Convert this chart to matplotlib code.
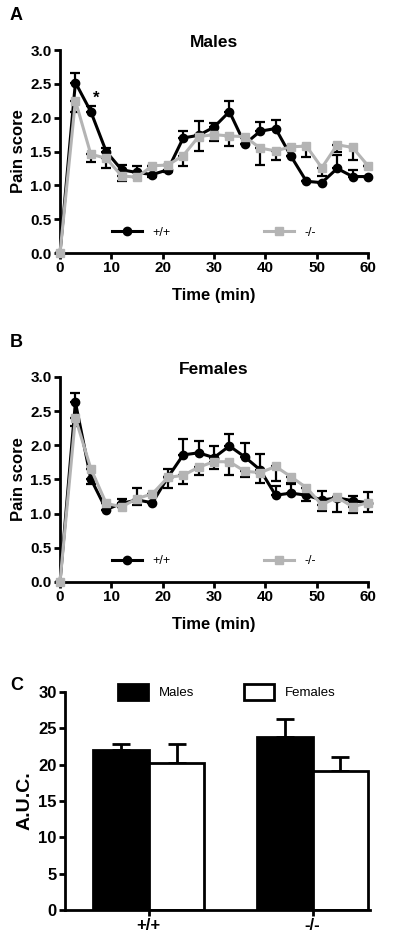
import matplotlib
matplotlib.use("Agg")
import matplotlib.pyplot as plt
from matplotlib.lines import Line2D
from matplotlib.patches import Patch
import numpy as np

plt.rcParams['font.family'] = ['Liberation Sans', 'DejaVu Sans']

# time points (min)
time = [0, 3, 6, 9, 12, 15, 18, 21, 24, 27, 30, 33, 36, 39, 42, 45, 48, 51, 54, 57, 60]

# Males, pain score
males_wt = [0, 2.52, 2.09, 1.50, 1.23, 1.19, 1.16, 1.23, 1.70, 1.74, 1.86, 2.09, 1.61, 1.80, 1.84, 1.43, 1.06, 1.04, 1.25, 1.13, 1.13]
males_wt_hi = [0, .14, .08, .05, .07, .10, 0, 0, .11, 0, .06, .16, 0, .13, .13, 0, 0, 0, .20, .10, 0]
males_wt_lo = [0, 0, 0, 0, 0, 0, .04, .03, 0, 0, 0, 0, 0, 0, 0, 0, 0, 0, 0, 0, 0]
males_ko = [0, 2.25, 1.46, 1.40, 1.14, 1.12, 1.29, 1.30, 1.44, 1.72, 1.75, 1.73, 1.72, 1.55, 1.51, 1.57, 1.58, 1.26, 1.60, 1.56, 1.29]
males_ko_lo = [0, .17, .11, .14, .08, 0, 0, 0, .15, .21, .10, .15, 0, .25, .14, 0, .16, .12, .10, .18, 0]
males_ko_hi = [0, 0, 0, 0, 0, 0, 0, 0, 0, .23, 0, 0, 0, 0, 0, 0, 0, 0, 0, 0, 0]

# Females, pain score
females_wt = [0, 2.63, 1.51, 1.06, 1.15, 1.20, 1.16, 1.53, 1.86, 1.89, 1.82, 1.99, 1.83, 1.64, 1.27, 1.30, 1.27, 1.20, 1.23, 1.19, 1.16]
females_wt_hi = [0, .13, 0, 0, .07, 0, 0, 0, .23, .18, .17, .18, .21, .23, .14, .15, 0, .13, 0, .07, .15]
females_wt_lo = [0, 0, .08, 0, 0, 0, 0, .16, 0, 0, 0, 0, 0, 0, 0, 0, 0, 0, .20, 0, 0]
females_ko = [0, 2.40, 1.66, 1.15, 1.10, 1.22, 1.29, 1.53, 1.56, 1.68, 1.76, 1.76, 1.62, 1.60, 1.69, 1.54, 1.38, 1.13, 1.24, 1.10, 1.16]
females_ko_lo = [0, .12, 0, 0, 0, .10, 0, 0, .13, .12, .11, .19, .08, .15, .21, .10, .20, .09, 0, .09, .13]
females_ko_hi = [0, 0, 0, 0, 0, .15, 0, .13, 0, 0, 0, 0, 0, 0, 0, 0, 0, 0, 0, 0, 0]

# AUC
genotypes = ['+/+', '-/-']
auc_males = [22.0, 23.8]
auc_males_err = [0.85, 2.5]
auc_females = [20.25, 19.1]
auc_females_err = [2.65, 1.9]

GRAY = '#b4b4b4'

fig = plt.figure(figsize=(4, 9.42), dpi=100)


def style_axes(ax, size=11):
    for s in ['top', 'right']:
        ax.spines[s].set_visible(False)
    for s in ['left', 'bottom']:
        ax.spines[s].set_linewidth(2)
    ax.tick_params(width=2, length=4, labelsize=size, pad=2)
    for lab in ax.get_xticklabels() + ax.get_yticklabels():
        lab.set_fontweight('bold')


def time_panel(rect, letter, title, wt, wt_lo, wt_hi, ko, ko_lo, ko_hi):
    ax = fig.add_axes(rect)
    ax.errorbar(time, wt, yerr=[wt_lo, wt_hi], fmt='none', ecolor='black',
                elinewidth=1.6, capsize=3.5, capthick=1.6, zorder=2, clip_on=False)
    ax.errorbar(time, ko, yerr=[ko_lo, ko_hi], fmt='none', ecolor='black',
                elinewidth=1.6, capsize=3.5, capthick=1.6, zorder=2, clip_on=False)
    ax.plot(time, wt, color='black', lw=2.2, marker='o', ms=6, zorder=3, clip_on=False)
    ax.plot(time, ko, color=GRAY, lw=2.2, marker='s', ms=6, zorder=4, clip_on=False)
    ax.set_xlim(0, 60)
    ax.set_ylim(0, 3.0)
    ax.set_xticks(range(0, 61, 10))
    ax.set_yticks(np.arange(0, 3.01, 0.5))
    ax.set_yticklabels(['%.1f' % v for v in np.arange(0, 3.01, 0.5)])
    style_axes(ax)
    ax.set_xlabel('Time (min)', fontsize=12, fontweight='bold', labelpad=9)
    ax.set_ylabel('Pain score', fontsize=12, fontweight='bold', labelpad=3)
    ax.set_title(title, fontsize=12.5, fontweight='bold', pad=1)
    handles = [Line2D([], [], color='black', lw=2.2, marker='o', ms=6),
               Line2D([], [], color=GRAY, lw=2.2, marker='s', ms=6)]
    ax.legend(handles, ['+/+', '-/-'], loc='center', bbox_to_anchor=(0.5, 0.1),
              ncol=2, frameon=False, fontsize=9, handlelength=2.4,
              columnspacing=7.5, handletextpad=0.8)
    fig.text(0.025, rect[1] + rect[3] + 0.032, letter, fontsize=13, fontweight='bold')
    return ax


axA = time_panel([0.15, 0.7314, 0.77, 0.2155], 'A', 'Males',
                 males_wt, males_wt_lo, males_wt_hi, males_ko, males_ko_lo, males_ko_hi)
axA.text(7.0, 2.22, '*', fontsize=12, fontweight='bold', ha='center')

axB = time_panel([0.15, 0.3822, 0.77, 0.2176], 'B', 'Females',
                 females_wt, females_wt_lo, females_wt_hi, females_ko, females_ko_lo, females_ko_hi)

# panel C
axC = fig.add_axes([0.1625, 0.034, 0.7625, 0.2314])
x = np.arange(len(genotypes))
w = 0.34
axC.bar(x - w / 2, auc_males, w, color='black', edgecolor='black', linewidth=2, zorder=2)
axC.bar(x + w / 2, auc_females, w, color='white', edgecolor='black', linewidth=2, zorder=2)
axC.errorbar(x - w / 2, auc_males, yerr=[[0, 0], auc_males_err], fmt='none',
             ecolor='black', elinewidth=2, capsize=6.5, capthick=2, zorder=1)
axC.errorbar(x + w / 2, auc_females, yerr=[[0, 0], auc_females_err], fmt='none',
             ecolor='black', elinewidth=2, capsize=6.5, capthick=2, zorder=1)
axC.set_xlim(-0.51, 1.35)
axC.set_ylim(0, 30)
axC.set_yticks(range(0, 31, 5))
axC.set_xticks(x)
axC.set_xticklabels(genotypes)
style_axes(axC, size=12)
axC.set_ylabel('A.U.C.', fontsize=14, fontweight='bold', labelpad=3)
axC.legend([Patch(facecolor='black', edgecolor='black', linewidth=2),
            Patch(facecolor='white', edgecolor='black', linewidth=2)],
           ['Males', 'Females'], loc='center', bbox_to_anchor=(0.53, 1.0),
           ncol=2, frameon=False, fontsize=9.5, handlelength=2.3, handleheight=1.4,
           columnspacing=3.8, handletextpad=0.8)
fig.text(0.025, 0.268, 'C', fontsize=13, fontweight='bold')

fig.savefig('out.png', dpi=100)
